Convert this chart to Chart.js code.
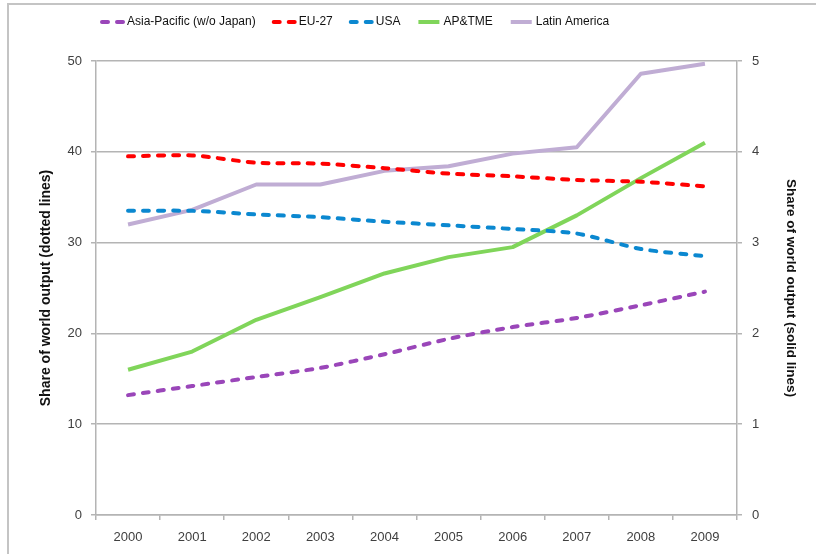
<!DOCTYPE html>
<html lang="en">

<head>
    <meta charset="UTF-8">
    <title>Share of world output</title>
    <script src="https://cdn.jsdelivr.net/npm/chart.js"></script>
    <style>
        html, body { margin: 0; padding: 0; background: #fff; }
        #wrap { width: 816px; height: 554px; position: relative; }
    </style>
</head>

<body>
    <div id="wrap"><canvas id="myChart" width="816" height="554"></canvas></div>

    <script>
        // data
        const years = ['2000', '2001', '2002', '2003', '2004', '2005', '2006', '2007', '2008', '2009'];

        // dotted lines, left axis
        const asiaPacific = [13.2, 14.2, 15.2, 16.2, 17.7, 19.4, 20.7, 21.7, 23.1, 24.6];
        const eu27 = [39.5, 39.6, 38.8, 38.7, 38.2, 37.6, 37.3, 36.9, 36.7, 36.2];
        const usa = [33.5, 33.5, 33.1, 32.8, 32.3, 31.9, 31.5, 31.0, 29.3, 28.5];

        // solid lines, right axis
        const apTme = [1.60, 1.80, 2.15, 2.40, 2.66, 2.84, 2.95, 3.30, 3.71, 4.10];
        const latinAmerica = [3.20, 3.36, 3.64, 3.64, 3.79, 3.84, 3.98, 4.05, 4.86, 4.97];

        const leftTicks = [0, 10, 20, 30, 40, 50];
        const rightTicks = [0, 1, 2, 3, 4, 5];

        const FONT = '"Liberation Sans", Arial, sans-serif';
        const TEXT = '#404040';
        const GRID = '#b4b4b4';

        // outer frame like the spreadsheet chart box
        const framePlugin = {
            id: 'frame',
            beforeDraw(chart) {
                const ctx = chart.ctx;
                ctx.save();
                ctx.strokeStyle = '#c4c4c4';
                ctx.lineWidth = 2;
                ctx.strokeRect(8, 4, 900, 700);
                ctx.restore();
            }
        };

        // legend drawn by hand so it sits where the original does
        const legendPlugin = {
            id: 'lineLegend',
            afterDraw(chart) {
                const ctx = chart.ctx;
                let x = 100;
                const y = 22;
                ctx.save();
                ctx.font = '12px ' + FONT;
                ctx.textBaseline = 'middle';
                chart.data.datasets.forEach(ds => {
                    ctx.strokeStyle = ds.borderColor;
                    ctx.lineWidth = 4;
                    ctx.lineCap = ds.borderDash.length ? 'round' : 'butt';
                    ctx.setLineDash(ds.borderDash);
                    ctx.beginPath();
                    ctx.moveTo(x + 2, y);
                    ctx.lineTo(x + 23, y);
                    ctx.stroke();
                    ctx.setLineDash([]);
                    ctx.fillStyle = '#111';
                    ctx.fillText(ds.label, x + 27, y);
                    x += 27 + ctx.measureText(ds.label).width + 16;
                });
                ctx.restore();
            }
        };

        const dotted = [6, 9];

        const ctx = document.getElementById('myChart').getContext('2d');
        const myChart = new Chart(ctx, {
            type: 'line',
            data: {
                labels: years,
                datasets: [{
                        label: 'Asia-Pacific (w/o Japan)',
                        data: asiaPacific,
                        yAxisID: 'y',
                        borderColor: '#9a46b9',
                        borderDash: dotted,
                        borderCapStyle: 'round',
                        tension: 0.25,
                    },
                    {
                        label: 'EU-27',
                        data: eu27,
                        yAxisID: 'y',
                        borderColor: '#ff0000',
                        borderDash: dotted,
                        borderCapStyle: 'round',
                        tension: 0.25,
                    },
                    {
                        label: 'USA',
                        data: usa,
                        yAxisID: 'y',
                        borderColor: '#0b88d0',
                        borderDash: dotted,
                        borderCapStyle: 'round',
                        tension: 0.25,
                    },
                    {
                        label: 'AP&TME',
                        data: apTme,
                        yAxisID: 'y2',
                        borderColor: '#80d55a',
                        borderDash: [],
                        tension: 0,
                    },
                    {
                        label: 'Latin America',
                        data: latinAmerica,
                        yAxisID: 'y2',
                        borderColor: '#c0add4',
                        borderDash: [],
                        tension: 0,
                    },
                ],
            },
            options: {
                responsive: false,
                animation: false,
                events: [],
                elements: {
                    point: { radius: 0 },
                    line: { borderWidth: 4, borderJoinStyle: 'round' },
                },
                layout: { padding: { top: 61, left: 0, right: 0, bottom: 0 } },
                plugins: {
                    legend: { display: false },
                    tooltip: { enabled: false },
                },
                scales: {
                    x: {
                        offset: true,
                        grid: {
                            offset: true,
                            drawOnChartArea: false,
                            drawTicks: true,
                            tickLength: 5,
                            color: GRID,
                            lineWidth: 1.5,
                        },
                        border: { color: GRID, width: 1.5 },
                        ticks: { color: TEXT, font: { family: FONT, size: 13 }, padding: 10, maxRotation: 0 },
                        afterFit(scale) { scale.height = 554 - 515; },
                    },
                    y: {
                        position: 'left',
                        min: 0,
                        max: 50,
                        afterBuildTicks(scale) { scale.ticks = leftTicks.map(v => ({ value: v })); },
                        grid: { color: GRID, lineWidth: 1.5, tickLength: 5 },
                        border: { color: GRID, width: 1.5 },
                        ticks: { color: TEXT, font: { family: FONT, size: 13 }, padding: 9 },
                        title: {
                            display: true,
                            text: 'Share of world output (dotted lines)',
                            color: '#111',
                            font: { family: FONT, size: 14, weight: 'bold' },
                            padding: { top: 38, bottom: 0 },
                        },
                        afterFit(scale) { scale.width = 96; },
                    },
                    y2: {
                        position: 'right',
                        min: 0,
                        max: 5,
                        afterBuildTicks(scale) { scale.ticks = rightTicks.map(v => ({ value: v })); },
                        grid: { drawOnChartArea: false, color: GRID, lineWidth: 1.5, tickLength: 5 },
                        border: { color: GRID, width: 1.5 },
                        ticks: { color: TEXT, font: { family: FONT, size: 13 }, padding: 10 },
                        title: {
                            display: true,
                            text: 'Share of world output (solid lines)',
                            color: '#111',
                            font: { family: FONT, size: 13.5, weight: 'bold' },
                            padding: { top: 17, bottom: 0 },
                        },
                        afterFit(scale) { scale.width = 816 - 737; },
                    },
                },
            },
            plugins: [framePlugin, legendPlugin],
        });
    </script>
</body>

</html>
